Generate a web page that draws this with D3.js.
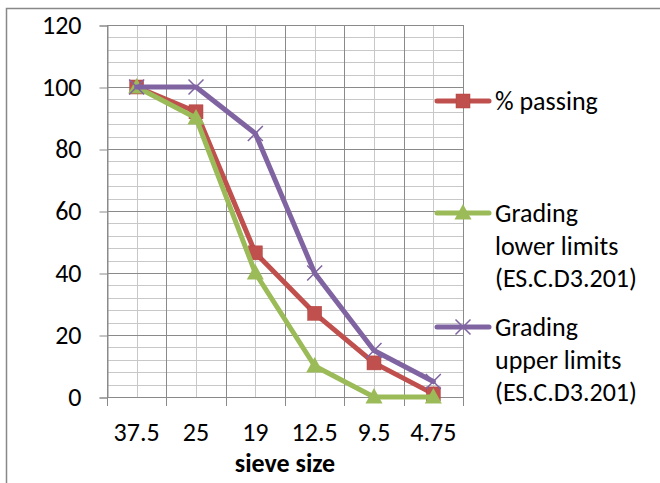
<!DOCTYPE html>
<html>
<head>
<meta charset="utf-8">
<script src="https://cdn.jsdelivr.net/npm/d3@7"></script>
<style>
  html, body { margin: 0; padding: 0; background: #fff; }
  svg { display: block; font-family: Carlito, Calibri, Lato, sans-serif; }
</style>
</head>
<body>
<svg id="chart" width="660" height="483"></svg>
<script>
// Sieve sizes (mm) along the x axis
const sieveSizes = ["37.5", "25", "19", "12.5", "9.5", "4.75"];
// Cumulative percent passing for the sample
const percentPassing = [100, 92, 46.5, 27, 11, 1];
// Grading envelope, ES.C.D3.201
const lowerLimits = [100, 90, 40, 10, 0, 0];
const upperLimits = [100, 100, 85, 40, 15, 5];
const yTicks = [0, 20, 40, 60, 80, 100, 120];

const series = [
  { name: ["% passing"], values: percentPassing, color: "#C0504D", marker: "square" },
  { name: ["Grading", "lower limits", "(ES.C.D3.201)"], values: lowerLimits, color: "#9BBB59", marker: "triangle" },
  { name: ["Grading", "upper limits", "(ES.C.D3.201)"], values: upperLimits, color: "#8064A2", marker: "cross" }
];

const FONT = 26;
const LINE_W = 5;
const svg = d3.select("#chart");
const plot = { left: 107, top: 25, right: 463, bottom: 397 };

// outer chart frame
svg.append("rect")
  .attr("x", 6.5).attr("y", 8.5)
  .attr("width", 700).attr("height", 600)
  .attr("fill", "none").attr("stroke", "#888").attr("stroke-width", 1.5);

const x = d3.scaleBand().domain(sieveSizes).range([plot.left, plot.right]).paddingInner(0).paddingOuter(0);
const y = d3.scaleLinear().domain([0, 120]).range([plot.bottom, plot.top]);

const g = svg.append("g");

// minor horizontal gridlines every 4
const minorY = d3.range(0, 121, 4).filter(v => v % 20 !== 0);
g.selectAll(".hminor").data(minorY).join("line")
  .attr("x1", plot.left).attr("x2", plot.right)
  .attr("y1", d => Math.round(y(d)) + 0.5).attr("y2", d => Math.round(y(d)) + 0.5)
  .attr("stroke", "#c8c8c8").attr("stroke-width", 1);

// minor vertical gridlines at category centers
g.selectAll(".vminor").data(sieveSizes).join("line")
  .attr("x1", d => Math.round(x(d) + x.bandwidth() / 2) + 0.5)
  .attr("x2", d => Math.round(x(d) + x.bandwidth() / 2) + 0.5)
  .attr("y1", plot.top).attr("y2", plot.bottom)
  .attr("stroke", "#c8c8c8").attr("stroke-width", 1);

// major horizontal gridlines
g.selectAll(".hmajor").data(yTicks).join("line")
  .attr("x1", plot.left).attr("x2", plot.right)
  .attr("y1", d => Math.round(y(d)) + 0.5).attr("y2", d => Math.round(y(d)) + 0.5)
  .attr("stroke", "#8a8a8a").attr("stroke-width", 1);

// major vertical gridlines at category boundaries
const bounds = sieveSizes.map(d => x(d)).concat([plot.right]);
g.selectAll(".vmajor").data(bounds).join("line")
  .attr("x1", d => Math.round(d) + 0.5).attr("x2", d => Math.round(d) + 0.5)
  .attr("y1", plot.top).attr("y2", plot.bottom)
  .attr("stroke", "#8a8a8a").attr("stroke-width", 1);

// y axis with outward ticks
const yAxis = d3.axisLeft(y).tickValues(yTicks).tickSize(8).tickPadding(18);
const ya = svg.append("g").attr("transform", `translate(${plot.left + 0.5},0.5)`).call(yAxis);
ya.attr("font-size", FONT).attr("font-family", "Carlito, Calibri, Lato, sans-serif");
ya.select(".domain").attr("stroke", "#8a8a8a");
ya.selectAll(".tick line").attr("stroke", "#8a8a8a");
ya.selectAll(".tick text").attr("fill", "#000");

// x axis: ticks at category boundaries, labels at centers
const xa = svg.append("g");
xa.append("line").attr("x1", plot.left).attr("x2", plot.right)
  .attr("y1", plot.bottom + 0.5).attr("y2", plot.bottom + 0.5).attr("stroke", "#8a8a8a");
xa.selectAll(".xt").data(bounds).join("line")
  .attr("x1", d => Math.round(d) + 0.5).attr("x2", d => Math.round(d) + 0.5)
  .attr("y1", plot.bottom).attr("y2", plot.bottom + 9)
  .attr("stroke", "#8a8a8a");
xa.selectAll(".xl").data(sieveSizes).join("text")
  .attr("x", d => x(d) + x.bandwidth() / 2).attr("y", 441)
  .attr("text-anchor", "middle").attr("font-size", FONT).text(d => d);

svg.append("text").attr("x", (plot.left + plot.right) / 2).attr("y", 472)
  .attr("text-anchor", "middle").attr("font-size", FONT).attr("font-weight", "bold")
  .text("sieve size");

const cx = d => x(d) + x.bandwidth() / 2;

function drawMarker(sel, type, color) {
  if (type === "square") {
    sel.append("rect").attr("x", -7).attr("y", -7).attr("width", 14).attr("height", 14)
      .attr("fill", color).attr("stroke", "#b0403d").attr("stroke-width", 0.5);
  } else if (type === "triangle") {
    sel.append("path").attr("d", "M0,-9 L8.5,6.5 L-8.5,6.5 Z").attr("fill", color);
  } else {
    sel.append("path").attr("d", "M-7.5,-7.5 L7.5,7.5 M-7.5,7.5 L7.5,-7.5")
      .attr("stroke", color).attr("stroke-width", 1.5).attr("fill", "none");
  }
}

const line = d3.line().x((d, i) => cx(sieveSizes[i])).y(d => y(d));

series.forEach(s => {
  const sg = svg.append("g");
  sg.append("path").datum(s.values).attr("d", line)
    .attr("fill", "none").attr("stroke", s.color).attr("stroke-width", LINE_W)
    .attr("stroke-linejoin", "round").attr("stroke-linecap", "round");
  s.values.forEach((v, i) => {
    const m = sg.append("g").attr("transform", `translate(${cx(sieveSizes[i])},${y(v)})`);
    drawMarker(m, s.marker, s.color);
  });
});

// legend
const legendY = [101, 213, 327];
series.forEach((s, k) => {
  const lg = svg.append("g").attr("transform", `translate(0,${legendY[k]})`);
  lg.append("line").attr("x1", 437).attr("x2", 489).attr("y1", 0).attr("y2", 0)
    .attr("stroke", s.color).attr("stroke-width", LINE_W).attr("stroke-linecap", "round");
  const m = lg.append("g").attr("transform", "translate(463,0)");
  drawMarker(m, s.marker, s.color);
  s.name.forEach((t, j) => {
    lg.append("text").attr("x", 495).attr("y", 9 + j * 32.5)
      .attr("font-size", FONT).attr("fill", "#000").text(t);
  });
});
</script>
</body>
</html>
